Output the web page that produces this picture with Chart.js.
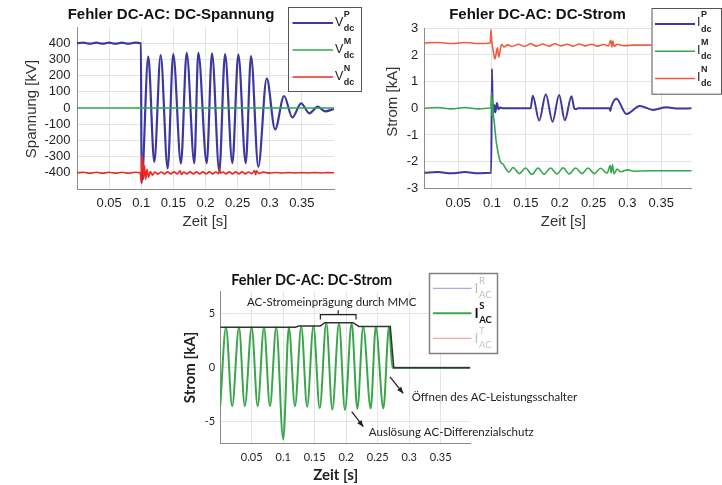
<!DOCTYPE html>
<html>
<head>
<meta charset="utf-8">
<script src="https://cdn.jsdelivr.net/npm/chart.js@4.4.0/dist/chart.umd.min.js"></script>
<style>
  body { margin: 0; background: #fff; width: 722px; height: 485px; position: relative; overflow: hidden; }
  .feld { position: absolute; }
</style>
</head>
<body>
<div class="feld" style="left:0;top:0;width:365px;height:240px"><canvas id="spannung"></canvas></div>
<div class="feld" style="left:365px;top:0;width:357px;height:240px"><canvas id="strom"></canvas></div>
<div class="feld" style="left:170px;top:255px;width:420px;height:230px"><canvas id="acstrom"></canvas></div>
<script>
const vP = [[0,400],[0.01,403],[0.02,397],[0.03,403],[0.04,397],[0.05,403],[0.06,397],[0.07,403],[0.08,397],[0.09,403],[0.0995,400],
  [0.1005,-465],[0.1109,317],[0.1203,-332],[0.1302,327],[0.1411,-373],[0.1498,333],[0.1618,-342],[0.1707,341],[0.1826,-340],
  [0.1888,341],[0.2019,-340],[0.2101,338],[0.2215,-390],[0.2304,333],[0.2418,-340],[0.2511,329],[0.2626,-340],[0.2709,321],
  [0.2822,-363],[0.2953,183],[0.3083,-132],[0.3223,74],[0.3352,-58],[0.3488,29],[0.3617,-33],[0.3748,8],[0.3861,-21],[0.4,-5]];
const vM = [[0,0],[0.4,0]];
const vN = [[0,-400],[0.01,-397],[0.02,-403],[0.03,-397],[0.04,-403],[0.05,-397],[0.06,-403],[0.07,-397],[0.08,-403],[0.09,-397],
  [0.0985,-400],[0.1,-462],[0.1008,-292],[0.1016,-350],[0.1024,-305],[0.1034,-440],[0.105,-355],[0.107,-440],[0.109,-378],
  [0.1115,-428],[0.114,-392],[0.1175,-415],[0.121,-396],[0.126,-408],[0.131,-395],[0.136,-407],[0.141,-394],[0.146,-407],
  [0.151,-394],[0.156,-407],[0.1605,-388],[0.1625,-410],[0.166,-395],[0.171,-407],[0.176,-394],[0.181,-407],[0.186,-394],
  [0.191,-407],[0.196,-394],[0.201,-407],[0.206,-394],[0.211,-407],[0.216,-395],[0.2205,-405],[0.222,-378],[0.2235,-402],
  [0.227,-395],[0.232,-407],[0.237,-394],[0.242,-407],[0.247,-394],[0.252,-407],[0.257,-394],[0.262,-407],[0.267,-395],
  [0.272,-405],[0.2765,-386],[0.278,-412],[0.2795,-388],[0.283,-404],[0.29,-396],[0.3,-402],[0.31,-398],[0.32,-401],
  [0.33,-399],[0.34,-401],[0.35,-399],[0.36,-401],[0.37,-399],[0.38,-401],[0.39,-399],[0.4,-400]];

const iP = [[0,-2.42],[0.02,-2.39],[0.04,-2.44],[0.06,-2.39],[0.08,-2.44],[0.0975,-2.42],[0.0988,-2.42],[0.1,1.48],
  [0.1012,-0.3],[0.1032,0.12],[0.105,-0.15],[0.1072,0.2],[0.1095,-0.04],[0.112,0.03],[0.116,0],[0.157,0],[0.1602,0.47],
  [0.1697,-0.46],[0.1795,0.53],[0.1894,-0.5],[0.1992,0.5],[0.2076,-0.45],[0.2174,0.45],[0.2215,0],[0.224,-0.04],[0.227,0],
  [0.2735,0],[0.2748,-0.1],[0.276,0.04],[0.2838,0.36],[0.2986,-0.21],[0.3183,0.09],[0.3379,-0.06],[0.3576,0.04],[0.375,-0.01],[0.395,0]];
const iM = [[0,0],[0.02,0.03],[0.04,-0.02],[0.06,0.03],[0.08,-0.02],[0.0975,0.01],[0.0985,0.02],[0.0993,0.58],[0.1,-0.3],
  [0.1008,0.35],[0.1016,-0.15],[0.1035,-0.55],[0.106,-1.2],[0.1085,-1.6],[0.111,-1.9],[0.1135,-2.05],[0.116,-2.08],[0.12,-2.25],
  [0.125,-2.4],[0.131,-2.22],[0.1405,-2.45],[0.1495,-2.24],[0.159,-2.48],[0.168,-2.24],[0.177,-2.47],[0.1865,-2.24],[0.196,-2.46],
  [0.205,-2.23],[0.214,-2.46],[0.2235,-2.24],[0.233,-2.45],[0.242,-2.24],[0.251,-2.45],[0.2605,-2.25],[0.27,-2.43],[0.2745,-2.15],
  [0.276,-2.42],[0.278,-2.12],[0.28,-2.45],[0.285,-2.28],[0.29,-2.38],[0.3,-2.31],[0.31,-2.36],[0.33,-2.34],[0.395,-2.34]];
const iN = [[0,2.45],[0.02,2.47],[0.04,2.43],[0.06,2.47],[0.08,2.43],[0.0975,2.45],[0.0984,2.94],[0.0995,2.55],[0.1015,2.2],
  [0.1043,1.85],[0.108,2.27],[0.11,1.92],[0.114,2.4],[0.118,2.3],[0.123,2.38],[0.13,2.32],[0.139,2.4],[0.148,2.32],[0.157,2.42],
  [0.166,2.33],[0.175,2.41],[0.184,2.33],[0.193,2.42],[0.202,2.34],[0.211,2.4],[0.22,2.33],[0.229,2.41],[0.238,2.34],[0.247,2.4],
  [0.256,2.33],[0.265,2.39],[0.272,2.34],[0.2755,2.55],[0.277,2.3],[0.2785,2.52],[0.2805,2.32],[0.285,2.4],[0.295,2.35],[0.31,2.37],[0.395,2.36]];

const iS = [[0,-3.55],[0.0092,3.72],[0.019,-3.55],[0.0298,3.72],[0.039,-3.55],[0.05,3.72],[0.0595,-3.55],[0.0695,3.72],
  [0.079,-3.55],[0.089,3.72],[0.1,-6.6],[0.109,3.72],[0.1187,-3.55],[0.1287,3.8],[0.138,-3.6],[0.148,3.85],[0.158,-3.75],
  [0.1684,4.12],[0.178,-3.85],[0.1886,4.12],[0.198,-3.9],[0.2087,4.12],[0.2177,-3.8],[0.227,3.78],[0.2389,-3.75],[0.247,3.78],
  [0.259,-3.75],[0.268,3.78],[0.2735,0],[0.397,0]];
const iHuelle = [[0,3.74],[0.119,3.74],[0.125,3.85],[0.159,3.85],[0.166,4.15],[0.211,4.15],[0.22,3.8],[0.27,3.8],[0.2755,0],[0.397,0]];

// Achsenbeschriftungen
const zeitTicks = [0.05, 0.1, 0.15, 0.2, 0.25, 0.3, 0.35];
const spannungTicks = [-400, -300, -200, -100, 0, 100, 200, 300, 400];
const stromTicks = [-3, -2, -1, 0, 1, 2, 3];
const acTicks = [-5, 0, 5];

const pts = a => a.map(p => ({ x: p[0], y: p[1] }));

function linie(daten, farbe, breite, glatt) {
    return {
        data: pts(daten), borderColor: farbe, borderWidth: breite, pointRadius: 0, fill: false,
        cubicInterpolationMode: glatt ? 'monotone' : 'default', tension: 0
    };
}

// Titel, Achsentitel, Legende und Hinweise selbst zeichnen (Hoch-/Tiefstellung)
function beschriftung(cfg) {
    return {
        id: 'beschriftung',
        afterDraw(chart) {
            const ctx = chart.ctx;
            ctx.save();
            ctx.textAlign = 'center';
            ctx.textBaseline = 'middle';
            ctx.fillStyle = '#111';
            ctx.font = cfg.titelFont;
            ctx.fillText(cfg.titel, cfg.titelPos[0], cfg.titelPos[1]);
            ctx.fillStyle = cfg.labelFarbe;
            ctx.font = cfg.labelFont;
            ctx.fillText(cfg.xLabel, cfg.xLabelPos[0], cfg.xLabelPos[1]);
            ctx.save();
            ctx.translate(cfg.yLabelPos[0], cfg.yLabelPos[1]);
            ctx.rotate(-Math.PI / 2);
            ctx.fillText(cfg.yLabel, 0, 0);
            ctx.restore();

            if (cfg.hinweise) {
                const sx = chart.scales.x, sy = chart.scales.y;
                const px = v => sx.getPixelForValue(v), py = v => sy.getPixelForValue(v);
                ctx.fillStyle = '#222';
                ctx.strokeStyle = '#222';
                ctx.font = cfg.hinweisFont;
                cfg.hinweise.forEach(h => {
                    if (h.text) {
                        ctx.textAlign = h.align;
                        ctx.fillText(h.text, px(h.x), py(h.y));
                    }
                    if (h.pfeil) {
                        const [x1, y1, x2, y2] = [px(h.pfeil[0]), py(h.pfeil[1]), px(h.pfeil[2]), py(h.pfeil[3])];
                        ctx.lineWidth = 1.3;
                        ctx.beginPath(); ctx.moveTo(x1, y1); ctx.lineTo(x2, y2); ctx.stroke();
                        const w = Math.atan2(y2 - y1, x2 - x1);
                        ctx.beginPath();
                        ctx.moveTo(x2, y2);
                        ctx.lineTo(x2 - 7 * Math.cos(w - 0.4), y2 - 7 * Math.sin(w - 0.4));
                        ctx.lineTo(x2 - 7 * Math.cos(w + 0.4), y2 - 7 * Math.sin(w + 0.4));
                        ctx.closePath(); ctx.fill();
                    }
                    if (h.klammer) {
                        const [a, b, yE, yB, yS] = h.klammer;
                        const m = (a + b) / 2;
                        ctx.lineWidth = 1.2;
                        ctx.beginPath();
                        ctx.moveTo(px(a), py(yE)); ctx.lineTo(px(a), py(yB)); ctx.lineTo(px(b), py(yB)); ctx.lineTo(px(b), py(yE));
                        ctx.moveTo(px(m), py(yB)); ctx.lineTo(px(m), py(yS));
                        ctx.stroke();
                    }
                });
            }

            const L = cfg.legende;
            ctx.fillStyle = '#fff';
            ctx.fillRect(L.x, L.y, L.w, L.h);
            ctx.strokeStyle = L.rahmen;
            ctx.lineWidth = L.rahmenBreite;
            ctx.strokeRect(L.x + 0.5, L.y + 0.5, L.w, L.h);
            L.zeilen.forEach((z, i) => {
                const y = L.y + L.erste + i * L.abstand;
                ctx.strokeStyle = z.farbe;
                ctx.lineWidth = z.breite;
                ctx.beginPath(); ctx.moveTo(L.x + L.von, y); ctx.lineTo(L.x + L.bis, y); ctx.stroke();
                ctx.fillStyle = z.textFarbe;
                ctx.textAlign = 'left';
                ctx.font = (z.fett ? 'bold ' : '') + L.font;
                const x0 = L.x + L.textX;
                ctx.fillText(z.basis, x0, y + L.basisDy);
                const bw = ctx.measureText(z.basis).width;
                ctx.font = (z.fett || L.kleinFett ? 'bold ' : '') + L.kleinFont;
                ctx.fillText(z.hoch, x0 + bw + 0.5, y + L.hochDy);
                ctx.fillText(z.tief, x0 + bw + 0.5, y + L.tiefDy);
            });
            ctx.restore();
        }
    };
}

function diagramm(id, datasets, cfg) {
    const tickFont = { family: cfg.schrift, size: cfg.tickGroesse };
    return new Chart(document.getElementById(id).getContext('2d'), {
        type: 'line',
        data: { datasets: datasets },
        options: {
            responsive: true, maintainAspectRatio: false, animation: false, devicePixelRatio: 1, events: [],
            layout: { padding: { top: cfg.oben, right: cfg.rechts, left: 0, bottom: 0 } },
            plugins: { legend: { display: false }, tooltip: { enabled: false } },
            scales: {
                x: {
                    type: 'linear', min: 0, max: cfg.xMax,
                    afterBuildTicks: s => { s.ticks = zeitTicks.map(v => ({ value: v })); },
                    afterFit: s => { s.height = cfg.xHoehe; },
                    ticks: { callback: v => String(Math.round(v * 100) / 100), font: tickFont, color: '#1f1f1f',
                        padding: cfg.xPad, maxRotation: 0, autoSkip: false },
                    grid: { color: '#e4e4e4', drawTicks: false },
                    border: { color: '#8c8c8c', width: 1 }
                },
                y: {
                    type: 'linear', min: cfg.yMin, max: cfg.yMax,
                    afterBuildTicks: s => { s.ticks = cfg.yTicks.map(v => ({ value: v })); },
                    afterFit: s => { s.width = cfg.yBreite; },
                    ticks: { font: tickFont, color: '#1f1f1f', padding: cfg.yPad, autoSkip: false },
                    grid: { color: '#e4e4e4', drawTicks: false },
                    border: { color: '#8c8c8c', width: 1 }
                }
            }
        },
        plugins: [beschriftung(cfg)]
    });
}

const blau = '#3d37a0', gruen = '#33a84f', rot1 = '#f0281c', rot2 = '#f15a3a';

// Oben links: DC-Spannung
let s1 = [linie(vP, blau, 2.2, true), linie(vM, gruen, 1.5, true), linie(vN, rot1, 1.6, true)];
s1[0].order = 3; s1[1].order = 2; s1[2].order = 1;
diagramm('spannung', s1, {
    schrift: 'Liberation Sans', tickGroesse: 13, xMax: 0.4, yMin: -500, yMax: 500, yTicks: spannungTicks,
    oben: 27, rechts: 31, xHoehe: 51, yBreite: 77, xPad: 6.5, yPad: 6.5,
    titel: 'Fehler DC-AC: DC-Spannung', titelFont: 'bold 15px "Liberation Sans"', titelPos: [171, 15],
    labelFont: '15px "Liberation Sans"', labelFarbe: '#333',
    xLabel: 'Zeit [s]', xLabelPos: [205, 222], yLabel: 'Spannung [kV]', yLabelPos: [32, 109],
    legende: { x: 288, y: 7, w: 73, h: 84, rahmen: '#555', rahmenBreite: 1, erste: 16, abstand: 27, von: 4.5, bis: 45,
        textX: 47, font: '12.5px "Liberation Sans"', kleinFont: '9px "Liberation Sans"', kleinFett: true,
        basisDy: -0.5, hochDy: -8, tiefDy: 6,
        zeilen: [
            { farbe: blau, breite: 2, textFarbe: '#222', basis: 'V', hoch: 'P', tief: 'dc' },
            { farbe: gruen, breite: 1.5, textFarbe: '#222', basis: 'V', hoch: 'M', tief: 'dc' },
            { farbe: rot1, breite: 1.5, textFarbe: '#222', basis: 'V', hoch: 'N', tief: 'dc' }
        ] }
});

// Oben rechts: DC-Strom
let s2 = [linie(iP, blau, 2, true), linie(iM, gruen, 1.6, true), linie(iN, rot2, 1.6, true)];
s2[0].order = 3; s2[1].order = 2; s2[2].order = 1;
diagramm('strom', s2, {
    schrift: 'Liberation Sans', tickGroesse: 13, xMax: 0.395, yMin: -3, yMax: 3, yTicks: stromTicks,
    oben: 28.3, rechts: 30.3, xHoehe: 51.7, yBreite: 59.3, xPad: 7, yPad: 6,
    titel: 'Fehler DC-AC: DC-Strom', titelFont: 'bold 15px "Liberation Sans"', titelPos: [172.5, 15],
    labelFont: '15px "Liberation Sans"', labelFarbe: '#333',
    xLabel: 'Zeit [s]', xLabelPos: [198.3, 222], yLabel: 'Strom [kA]', yLabelPos: [28.3, 101.7],
    legende: { x: 286.5, y: 8, w: 69.5, h: 85.7, rahmen: '#555', rahmenBreite: 1, erste: 16, abstand: 27.2, von: 3.5, bis: 43.5,
        textX: 45.5, font: '12.5px "Liberation Sans"', kleinFont: '9px "Liberation Sans"', kleinFett: true,
        basisDy: -1, hochDy: -9, tiefDy: 5.5,
        zeilen: [
            { farbe: blau, breite: 2, textFarbe: '#222', basis: 'I', hoch: 'P', tief: 'dc' },
            { farbe: gruen, breite: 1.5, textFarbe: '#222', basis: 'I', hoch: 'M', tief: 'dc' },
            { farbe: rot2, breite: 1.5, textFarbe: '#222', basis: 'I', hoch: 'N', tief: 'dc' }
        ] }
});

// Unten: AC-Strom Phase S mit Hüllkurve
let s3 = [linie(iS, '#3aa64a', 2, true), linie(iHuelle, '#333', 1.5, false)];
s3[0].order = 2; s3[1].order = 1;
diagramm('acstrom', s3, {
    schrift: 'Lato', tickGroesse: 11, xMax: 0.397, yMin: -7, yMax: 7, yTicks: acTicks,
    oben: 36.8, rechts: 119.7, xHoehe: 41.4, yBreite: 50.2, xPad: 7, yPad: 5,
    titel: 'Fehler DC-AC: DC-Strom', titelFont: 'bold 14.5px Lato', titelPos: [141.7, 25],
    labelFont: 'bold 15px Lato', labelFarbe: '#222',
    xLabel: 'Zeit [s]', xLabelPos: [165.7, 220], yLabel: 'Strom [kA]', yLabelPos: [20, 112.5],
    hinweisFont: '11.5px Lato',
    hinweise: [
        { text: 'AC-Stromeinprägung durch MMC', x: 0.177, y: 6.0, align: 'center' },
        { klammer: [0.159, 0.2156, 4.45, 4.9, 5.3] },
        { text: 'Öffnen des AC-Leistungsschalter', x: 0.304, y: -2.72, align: 'left' },
        { pfeil: [0.2695, -0.85, 0.2906, -2.37] },
        { text: 'Auslösung AC-Differenzialschutz', x: 0.236, y: -5.95, align: 'left' },
        { pfeil: [0.2087, -4.06, 0.2272, -5.44] }
    ],
    legende: { x: 259, y: 18, w: 68, h: 80, rahmen: '#808080', rahmenBreite: 1.5, erste: 15.3, abstand: 25, von: 4, bis: 42.5,
        textX: 45.5, font: '14px Lato', kleinFont: '9.5px Lato', kleinFett: false,
        basisDy: 0, hochDy: -7, tiefDy: 6.5,
        zeilen: [
            { farbe: '#a9a9e6', breite: 1.2, textFarbe: '#bdbdbd', basis: 'I', hoch: 'R', tief: 'AC' },
            { farbe: '#3aa64a', breite: 2, textFarbe: '#111', fett: true, basis: 'I', hoch: 'S', tief: 'AC' },
            { farbe: '#f4a5a5', breite: 1.2, textFarbe: '#c4c4c4', basis: 'I', hoch: 'T', tief: 'AC' }
        ] }
});
</script>
</body>
</html>
